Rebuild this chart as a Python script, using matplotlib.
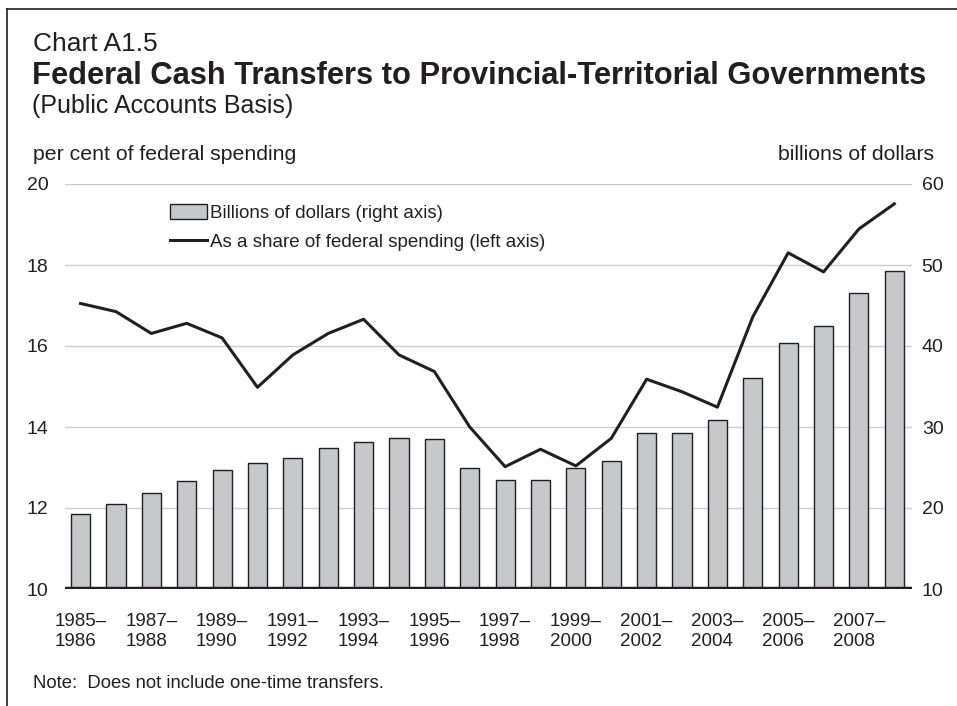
import matplotlib.pyplot as plt
from matplotlib.lines import Line2D

plt.rcParams['font.family'] = ['Liberation Sans', 'DejaVu Sans']

# fiscal years 1985-1986 .. 2008-2009
years = [f"{y}–\n{y + 1}" for y in range(1985, 2009)]
billions = [19.3, 20.5, 21.9, 23.3, 24.7, 25.5, 26.2, 27.4, 28.1, 28.6, 28.5, 25.0,
            23.5, 23.4, 24.9, 25.8, 29.2, 29.2, 30.9, 36.0, 40.4, 42.5, 46.6, 49.3]
share = [17.05, 16.85, 16.31, 16.56, 16.2, 14.98, 15.78, 16.31, 16.66, 15.78, 15.37, 14.0,
         13.02, 13.45, 13.04, 13.72, 15.18, 14.87, 14.49, 16.72, 18.30, 17.83, 18.89, 19.51]
left_ticks = [10, 12, 14, 16, 18, 20]
right_ticks = [10, 20, 30, 40, 50, 60]

dark = '#231f20'
W, H = 957, 706
fig = plt.figure(figsize=(W / 100, H / 100), dpi=100)
ax = fig.add_axes([65 / W, 1 - 589 / H, (912 - 65) / W, (589 - 184) / H])
ax2 = ax.twinx()

x = list(range(len(years)))

# bars on right axis (ax2 sits below ax so the line is on top)
ax.set_zorder(2)
ax.patch.set_visible(False)
bars = ax2.bar(x, billions, width=0.54, color='#c7c8ca', edgecolor=dark, linewidth=1.0,
               zorder=3, label='Billions of dollars (right axis)')
ax2.set_ylim(10, 60)
ax2.set_yticks(right_ticks)
for v in right_ticks[1:]:
    ax2.axhline(v, color='#cccccc', linewidth=1.0, zorder=1)
ax2.axhline(10, color=dark, linewidth=3.2, zorder=5)

line, = ax.plot(x, share, color=dark, linewidth=2.2, zorder=4,
                label='As a share of federal spending (left axis)')
ax.set_ylim(10, 20)
ax.set_yticks(left_ticks)
ax.set_xlim(-0.44, 23.5)
ax.set_xticks(x[::2])
ax.set_xticklabels(years[::2], multialignment='left', fontsize=13.5, color=dark,
                   linespacing=1.25)

for a in (ax, ax2):
    for s in a.spines.values():
        s.set_visible(False)
    a.tick_params(length=0, labelsize=14, colors=dark)
ax.tick_params(axis='y', pad=12)
ax2.tick_params(axis='y', pad=7)
ax.tick_params(axis='x', pad=17, labelsize=13.5)

ax.legend([bars, line], [bars.get_label(), line.get_label()], loc='upper left',
          bbox_to_anchor=(0.1035, 0.992), frameon=False, fontsize=13.5,
          handlelength=2.0, handleheight=0.85, handletextpad=0.15, labelspacing=0.6,
          labelcolor=dark)

# titles and notes
fig.text(33 / W, 1 - 44 / H, 'Chart A1.5', fontsize=19, color=dark, va='center')
fig.text(32 / W, 1 - 76 / H, 'Federal Cash Transfers to Provincial-Territorial Governments',
         fontsize=22.2, fontweight='bold', color=dark, va='center')
fig.text(32 / W, 1 - 106 / H, '(Public Accounts Basis)', fontsize=18, color=dark, va='center')
fig.text(33 / W, 1 - 155 / H, 'per cent of federal spending', fontsize=15.3, color=dark, va='center')
fig.text(934 / W, 1 - 155 / H, 'billions of dollars', fontsize=15.3, color=dark, va='center', ha='right')
fig.text(33 / W, 1 - 683 / H, 'Note:  Does not include one-time transfers.', fontsize=13.3,
         color=dark, va='center')

# page frame (top and left edges)
fig.add_artist(Line2D([7 / W, 1], [1 - 9 / H, 1 - 9 / H], color=dark, linewidth=1.2))
fig.add_artist(Line2D([7 / W, 7 / W], [0, 1 - 9 / H], color=dark, linewidth=1.2))

fig.savefig('out.png', dpi=100)
